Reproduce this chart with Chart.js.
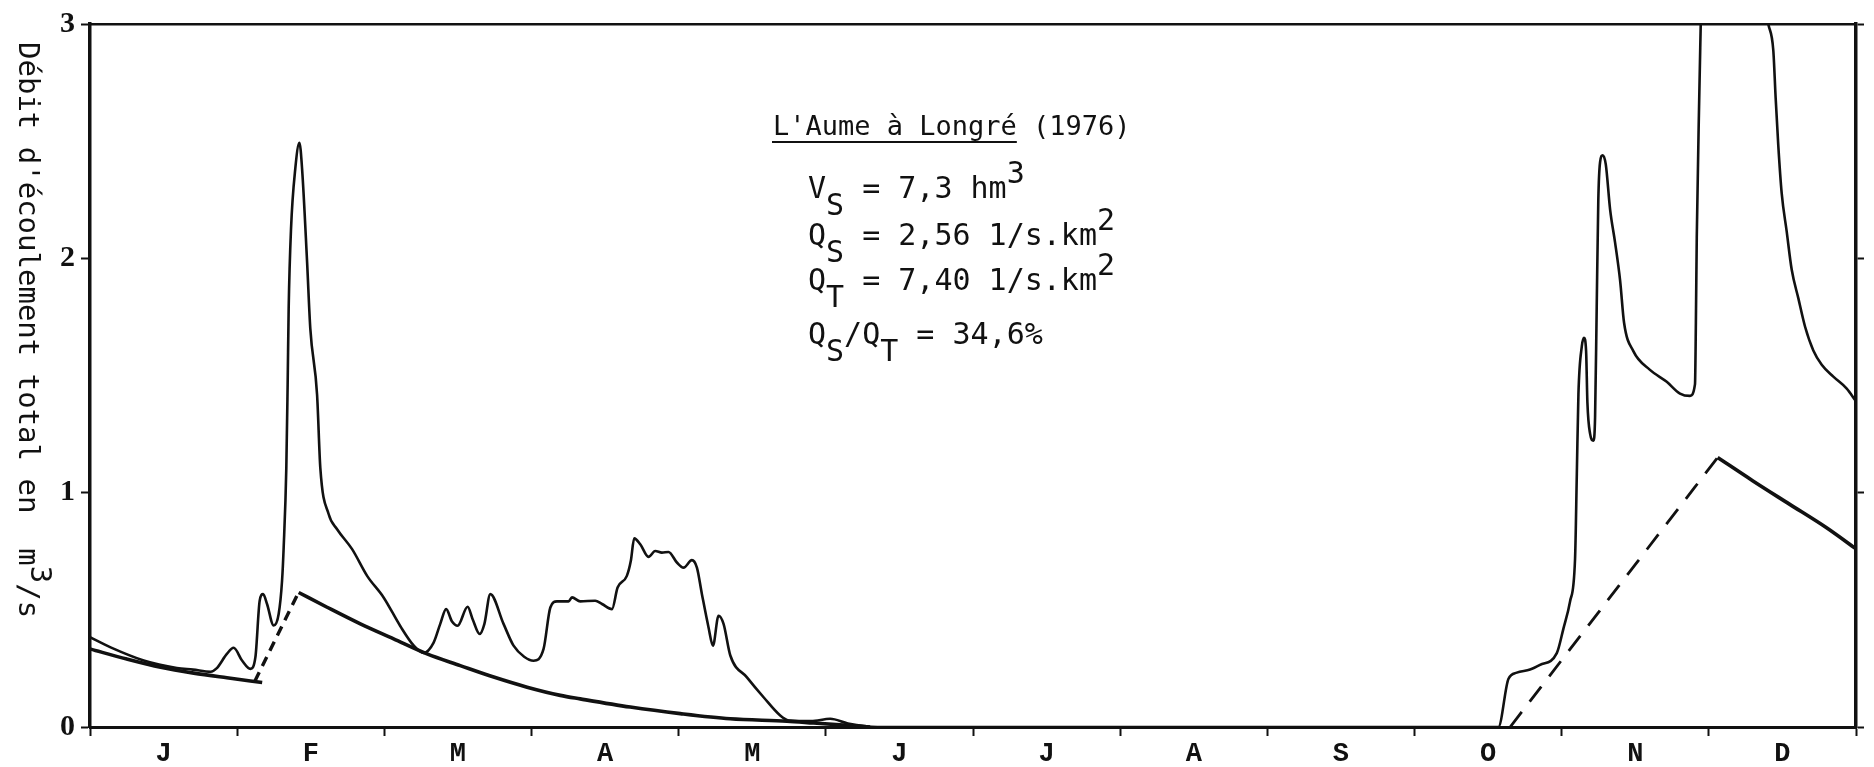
<!DOCTYPE html>
<html><head><meta charset="utf-8">
<script src="https://cdn.jsdelivr.net/npm/chart.js@4.4.0/dist/chart.umd.min.js"></script>
<style>html,body{margin:0;padding:0;background:#fff}canvas{display:block}</style>
</head><body>
<canvas id="c" width="1874" height="767"></canvas>
<script>
// ---- data (x = month index from 1 Jan 1976, y = m3/s) ----
const monthLabels = ['J','F','M','A','M','J','J','A','S','O','N','D'];
const yTickValues = [0, 1, 2, 3];

const totalMonth = [0, 0.14, 0.365, 0.59, 0.70, 0.82, 0.86, 0.93, 0.976, 1.033, 1.09, 1.124, 1.153, 1.176, 1.203, 1.248, 1.282, 1.305, 1.316, 1.334, 1.343, 1.350, 1.366, 1.395, 1.423, 1.441, 1.475, 1.497, 1.543, 1.565, 1.622, 1.679, 1.781, 1.883, 1.995, 2.109, 2.199, 2.267,
  2.335, 2.38, 2.42, 2.46, 2.498, 2.566, 2.60, 2.648, 2.68, 2.72, 2.81, 2.878, 2.95, 3.014, 3.082, 3.128, 3.173, 3.252, 3.275, 3.331, 3.433, 3.479, 3.547, 3.585, 3.648, 3.675, 3.698, 3.739, 3.795, 3.841, 3.886, 3.931, 3.988, 4.033, 4.09, 4.124, 4.158, 4.203, 4.233, 4.271, 4.305, 4.351, 4.464, 4.577, 4.69, 4.747, 4.9, 5.03, 5.15, 5.35, 9.57,
  9.638, 9.695, 9.785, 9.853, 9.967, 10.012, 10.057, 10.091, 10.103, 10.114, 10.137, 10.152, 10.166, 10.175, 10.193, 10.216, 10.227, 10.238, 10.249, 10.261, 10.279, 10.30, 10.329, 10.363, 10.397, 10.424, 10.487, 10.6, 10.714, 10.804, 10.872, 10.906, 10.912, 10.918, 10.935, 10.945, 11.17, 11.404, 11.438, 11.454, 11.472, 11.495, 11.529, 11.563, 11.608, 11.654, 11.71, 11.767, 11.846, 11.937, 12.0];
const totalFlow = [0.383, 0.34, 0.284, 0.252, 0.245, 0.236, 0.25, 0.312, 0.338, 0.284, 0.248, 0.298, 0.539, 0.567, 0.525, 0.433, 0.482, 0.624, 0.766, 1.106, 1.461, 1.787, 2.127, 2.383, 2.493, 2.383, 1.986, 1.70, 1.418, 1.106, 0.908, 0.844, 0.759, 0.645, 0.553, 0.43, 0.348, 0.316,
  0.36, 0.44, 0.503, 0.45, 0.432, 0.513, 0.46, 0.397, 0.44, 0.567, 0.44, 0.347, 0.30, 0.283, 0.333, 0.51, 0.536, 0.536, 0.553, 0.536, 0.539, 0.525, 0.503, 0.595, 0.645, 0.709, 0.805, 0.78, 0.726, 0.751, 0.744, 0.747, 0.702, 0.68, 0.712, 0.68, 0.567, 0.425, 0.347, 0.475, 0.44, 0.305, 0.212, 0.127, 0.049, 0.028, 0.025, 0.035, 0.015, 0, 0,
  0.205, 0.232, 0.245, 0.265, 0.315, 0.42, 0.536, 0.718, 1.08, 1.423, 1.625, 1.661, 1.604, 1.383, 1.252, 1.222, 1.322, 1.786, 2.249, 2.41, 2.44, 2.40, 2.209, 2.067, 1.906, 1.725, 1.604, 1.524, 1.473, 1.423, 1.413, 1.463, 1.725, 2.088, 2.692, 3.0, null, 3.0, 2.888, 2.685, 2.481, 2.278, 2.115, 1.952, 1.83, 1.708, 1.607, 1.546, 1.495, 1.444, 1.39];

const baseJanMonth = [0, 0.25, 0.48, 0.705, 0.93, 1.17];
const baseJanFlow  = [0.333, 0.29, 0.255, 0.23, 0.21, 0.19];
const baseFebRiseMonth = [1.12, 1.41];
const baseFebRiseFlow  = [0.195, 0.565];
const baseRecessMonth = [1.418, 1.611, 1.837, 2.063, 2.29, 2.516, 2.743, 2.97, 3.196, 3.331, 3.671, 4.011, 4.35, 4.736, 4.917, 5.3];
const baseRecessFlow  = [0.574, 0.511, 0.44, 0.376, 0.312, 0.262, 0.213, 0.17, 0.135, 0.12, 0.085, 0.057, 0.035, 0.025, 0.017, 0];
const baseNovRiseMonth = [9.65, 11.06];
const baseNovRiseFlow  = [0, 1.15];
const baseDecMonth = [11.06, 11.3, 11.55, 11.8, 12];
const baseDecFlow  = [1.15, 1.05, 0.95, 0.85, 0.76];

const chartTitle = "L'Aume à Longré (1976)";
const chartTitleUnderlined = "L'Aume à Longré";
const statLines = [
  [['V',0],['S',1],[' = 7,3 hm',0],['3',-1]],
  [['Q',0],['S',1],[' = 2,56 1/s.km',0],['2',-1]],
  [['Q',0],['T',1],[' = 7,40 1/s.km',0],['2',-1]],
  [['Q',0],['S',1],['/',0],['Q',0],['T',1],[' = 34,6%',0]]
];
const yTitleSegs = [["Débit d'écoulement total en  m",0],['3',-1],['/s',0]];

// ---- helpers ----
const pts = (xs, ys) => xs.map((x, i) => ({x: x, y: ys[i]}));
const xTickValues = [];
for (let i = 0; i <= monthLabels.length; i++) { xTickValues.push(i); if (i < monthLabels.length) xTickValues.push(i + 0.5); }
const INK = '#111';

function drawSegs(ctx, segs, x, y, down, up) {
  for (const [t, s] of segs) {
    ctx.fillText(t, x, y + (s > 0 ? down : s < 0 ? -up : 0));
    x += ctx.measureText(t).width;
  }
  return x;
}

const statBaselines = [198, 245, 290, 344];

const textPlugin = {
  id: 'texts',
  afterDraw(chart) {
    const ctx = chart.ctx;
    ctx.save();
    ctx.fillStyle = INK;
    ctx.strokeStyle = INK;
    ctx.textBaseline = 'alphabetic';
    ctx.textAlign = 'left';
    // info block
    ctx.font = '27px "DejaVu Sans Mono"';
    const tx = 773, ty = 135;
    ctx.fillText(chartTitle, tx, ty);
    const uw = ctx.measureText(chartTitleUnderlined).width;
    ctx.lineWidth = 2;
    ctx.beginPath(); ctx.moveTo(tx - 1, ty + 7); ctx.lineTo(tx + uw, ty + 7); ctx.stroke();
    ctx.font = '30px "DejaVu Sans Mono"';
    statLines.forEach((segs, i) => drawSegs(ctx, segs, 808, statBaselines[i], 17, 15));
    // y axis title, rotated clockwise
    ctx.font = '29px "DejaVu Sans Mono"';
    ctx.translate(19, 42);
    ctx.rotate(Math.PI / 2);
    drawSegs(ctx, yTitleSegs, 0, 0, 12, 12);
    ctx.restore();
  }
};

const lineDs = (data, w, dash) => ({
  data, borderColor: INK, borderWidth: w, pointRadius: 0, borderDash: dash || [],
  cubicInterpolationMode: 'monotone', spanGaps: false, fill: false
});

new Chart(document.getElementById('c'), {
  type: 'line',
  data: { datasets: [
    lineDs(pts(totalMonth, totalFlow), 2.6),
    lineDs(pts(baseJanMonth, baseJanFlow), 3.6),
    lineDs(pts(baseFebRiseMonth, baseFebRiseFlow), 3.4, [10, 7]),
    lineDs(pts(baseRecessMonth, baseRecessFlow), 3.6),
    lineDs(pts(baseNovRiseMonth, baseNovRiseFlow), 2.8, [19, 13]),
    lineDs(pts(baseDecMonth, baseDecFlow), 3.6)
  ]},
  options: {
    responsive: false, animation: false, devicePixelRatio: 1,
    layout: { padding: { top: 21, left: 0, right: 0, bottom: 0 } },
    plugins: { legend: { display: false }, tooltip: { enabled: false }, title: { display: false } },
    scales: {
      x: {
        type: 'linear', position: 'bottom', min: 0, max: 12,
        afterBuildTicks: s => { s.ticks = xTickValues.map(v => ({ value: v })); },
        afterFit: s => { s.height = 40; },
        ticks: {
          autoSkip: false, maxRotation: 0, minRotation: 0, padding: 2, color: INK,
          font: { family: 'Liberation Mono', size: 27, weight: 'bold' },
          callback: v => Number.isInteger(v) ? '' : monthLabels[Math.floor(v)]
        },
        grid: { drawOnChartArea: false, tickLength: 9, tickWidth: 2,
          tickColor: c => (c.tick && Number.isInteger(c.tick.value)) ? INK : 'rgba(0,0,0,0)' },
        border: { display: true, color: INK, width: 3 }
      },
      x2: {
        type: 'linear', position: 'top', min: 0, max: 12,
        afterFit: s => { s.height = 0; },
        ticks: { display: false }, grid: { display: false },
        border: { display: true, color: INK, width: 2.5 }
      },
      y: {
        type: 'linear', position: 'left', min: 0, max: 3,
        afterBuildTicks: s => { s.ticks = yTickValues.map(v => ({ value: v })); },
        afterFit: s => { s.width = 90; },
        ticks: { padding: 6, color: INK, font: { family: 'Liberation Serif', size: 30, weight: 'bold' } },
        grid: { drawOnChartArea: false, tickLength: 9, tickWidth: 2, tickColor: INK },
        border: { display: true, color: INK, width: 3.5 }
      },
      y2: {
        type: 'linear', position: 'right', min: 0, max: 3,
        afterBuildTicks: s => { s.ticks = yTickValues.map(v => ({ value: v })); },
        afterFit: s => { s.width = 18; },
        ticks: { display: false },
        grid: { drawOnChartArea: false, tickLength: 8, tickWidth: 2, tickColor: INK },
        border: { display: true, color: INK, width: 3.5 }
      }
    }
  },
  plugins: [textPlugin]
});
</script>
</body></html>
